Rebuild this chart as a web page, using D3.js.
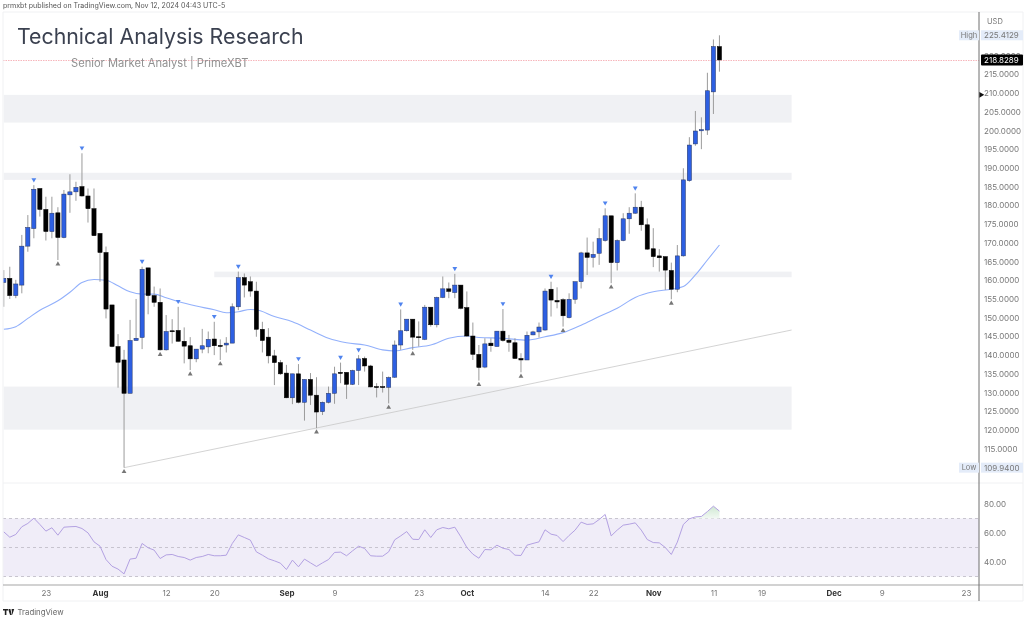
<!DOCTYPE html>
<html><head><meta charset="utf-8">
<script src="https://cdn.jsdelivr.net/npm/d3@7"></script>
<style>html,body{margin:0;padding:0;background:#fff}svg{display:block;filter:blur(0.45px)}text{font-family:Inter,"Liberation Sans",sans-serif}</style>
</head><body><svg id="c" width="1024" height="622"></svg>
<script>
const startDay = "2024-07-16";
const candleOpen = [159.4,160.5,155.9,158.7,169.1,173.8,184.5,178.9,173.0,178.0,171.4,182.8,183.6,185.0,182.5,179.1,
172.5,167.4,153.4,142.3,138.7,129.8,143.9,144.7,163.3,155.9,154.1,141.4,146.5,146.6,143.7,142.5,139.0,141.6,142.2,144.3,142.6,142.7,143.2,152.9,160.7,159.6,157.1,146.9,144.8,139.8,138.0,
135.2,128.6,135.0,127.4,133.5,129.3,124.9,127.4,129.8,135.4,135.4,132.2,135.9,139.1,137.1,131.6,131.6,131.4,134.1,142.7,146.5,149.6,144.9,144.2,152.8,148.1,155.4,157.7,156.7,158.7,
152.7,145.1,140.2,136.8,143.2,142.3,146.4,144.0,143.3,139.1,138.7,145.4,146.2,146.7,157.6,154.6,154.8,150.0,154.9,159.6,167.3,166.1,167.2,170.6,177.2,164.7,170.6,176.4,177.9,179.5,174.8,
168.4,166.5,166.3,162.6,157.6,166.5,186.6,196.4,199.9,200.1,210.3,222.4];
const candleClose = [160.5,155.9,159.0,169.1,174.1,184.3,178.9,173.0,177.9,171.4,183.0,183.6,184.8,182.5,179.1,171.9,
167.4,152.3,142.3,138.1,129.8,143.9,144.5,162.9,155.9,154.1,141.4,146.3,146.3,143.7,142.4,139.0,141.6,142.5,144.2,142.5,142.3,143.2,152.9,160.7,158.7,157.1,146.9,143.9,139.8,138.0,135.0,
128.6,135.0,127.4,133.5,129.3,124.8,127.4,129.8,135.0,135.1,132.2,135.9,139.0,137.1,131.5,131.4,131.4,134.0,142.7,146.5,149.6,144.8,144.7,152.8,148.1,155.4,157.7,157.0,158.7,152.5,
145.1,140.2,136.7,143.0,142.5,146.4,143.9,143.4,139.1,138.7,145.3,146.2,147.5,157.1,154.7,154.2,150.5,154.9,159.6,167.3,166.1,166.9,171.1,177.2,164.7,170.6,176.4,177.9,179.5,174.8,168.3,
166.3,166.0,162.7,157.6,166.5,186.8,196.1,199.85,200.2,210.6,222.4,218.83];
const candleHigh = [162.7,163.6,160.1,172.1,177.4,185.4,184.5,182.3,182.3,179.5,184.1,188.3,186.3,193.9,184.5,184.5,
172.5,169.0,153.4,145.6,141.4,149.4,155.0,163.6,163.3,158.3,157.8,150.7,149.6,152.9,147.4,144.8,141.6,147.0,146.3,148.9,144.2,144.8,153.8,162.3,161.8,161.0,159.6,148.9,147.2,141.4,138.7,
137.4,135.0,137.6,133.5,135.2,134.1,127.6,131.6,136.9,138.0,135.4,136.1,140.0,139.6,137.4,132.5,135.6,134.3,143.9,152.2,149.6,149.6,149.0,153.4,152.8,155.6,161.0,159.4,161.7,158.7,
157.0,148.7,142.7,144.5,144.5,146.4,152.3,145.4,144.5,140.5,146.3,146.5,148.7,157.8,159.6,158.1,155.2,156.5,159.6,167.6,171.4,170.3,173.9,179.2,177.2,170.9,177.9,179.5,183.2,181.2,176.5,
173.9,168.3,166.3,164.7,169.4,189.9,198.2,205.2,203.5,215.4,224.3,225.41];
const candleLow = [152.9,155.0,155.2,156.5,167.6,171.2,177.0,170.6,171.2,165.4,171.2,178.0,181.2,182.3,175.4,171.8,
159.6,149.8,142.1,131.3,109.94,129.8,143.9,141.6,150.9,152.9,141.2,141.2,143.1,143.6,137.8,136.0,138.1,140.5,140.5,140.0,138.7,140.7,143.2,152.0,155.4,155.6,144.9,140.7,137.8,132.0,134.7,
128.5,126.9,127.1,122.5,126.7,120.5,124.0,127.1,127.0,132.5,128.3,132.0,132.0,135.6,131.4,128.7,130.0,127.1,133.9,141.4,146.3,141.4,142.3,144.0,147.6,147.4,155.2,155.2,155.2,152.2,
144.9,138.7,133.2,136.5,140.9,142.3,143.6,140.9,139.0,135.4,138.7,145.3,144.7,146.5,150.3,152.5,147.6,149.8,153.7,157.8,161.4,163.4,164.1,170.3,159.2,162.6,170.4,172.4,177.7,173.2,168.1,
163.5,162.3,157.4,154.9,156.8,166.3,186.3,195.9,195.0,198.8,204.4,215.7];
const rsiValues = [60.8,57.1,59.0,64.3,66.6,70.2,65.9,61.3,63.6,58.5,64.0,64.3,64.5,63.1,60.1,53.9,
50.9,41.7,37.1,35.1,31.8,42.0,42.6,52.8,49.8,48.2,42.4,44.9,45.2,43.8,43.1,41.3,43.1,43.8,45.2,44.3,44.3,44.7,52.8,58.7,56.9,55.1,47.0,44.7,42.2,40.8,39.2,
34.8,41.3,36.7,42.0,39.4,36.9,39.4,41.7,46.6,46.8,44.3,47.7,50.9,49.3,44.3,44.0,44.0,47.0,55.3,58.0,61.0,55.7,55.5,62.2,56.9,62.2,63.8,62.9,64.0,57.4,
50.0,45.4,42.6,48.6,48.4,51.6,49.5,48.6,44.7,44.5,51.6,52.8,53.9,62.2,59.2,58.3,54.1,58.3,62.0,67.5,65.9,66.3,69.3,72.8,58.0,62.0,65.4,66.1,67.0,62.0,55.5,
53.4,53.2,50.0,45.2,53.7,65.9,69.8,71.1,71.4,74.8,78.5,75.1];
const emaDays = ["07-16","07-18","07-20","07-22","07-25","07-27","07-29","07-31","08-02","08-04","08-06","08-08","08-10","08-12","08-14","08-17","08-20","08-22","08-24","08-26","08-27","08-30","09-02","09-05","09-08","09-11","09-14","09-17","09-19","09-22","09-25","09-28","10-01","10-03","10-07","10-11","10-14","10-17","10-20","10-23","10-26","10-29","11-01","11-04","11-06","11-08","11-10","11-12"];
const emaValues = [146.9,147.6,149.8,152.0,154.5,156.8,159.4,160.2,160.0,158.5,156.9,156.3,156.3,155.3,154.3,153.1,152.1,151.3,151.6,152.2,152.1,150.3,148.9,146.7,144.5,143.3,142.7,141.4,141.1,142.0,142.7,144.5,145.1,144.7,144.5,144.0,144.9,146.0,148.0,150.3,152.5,155.4,156.9,157.6,158.3,161.4,165.4,169.4];
const pivotHighDays = ["07-21","07-29","08-08","08-14","08-20","08-24","09-03","09-10","09-13","09-20","09-29","10-07","10-15","10-24","10-29"];
const pivotLowDays = ["07-25","08-05","08-11","08-16","08-21","09-06","09-18","09-22","10-03","10-10","10-17","10-25","11-04"];
const zoneTop = [209.5,188.7,162.3,131.6];
const zoneBottom = [202.1,186.8,160.8,120.1];
const zoneStart = ["07-16","07-16","08-20","07-16"];
const zoneEnd = "11-24";
const trendDays = ["08-05","11-24"];
const trendValues = [109.94,146.7];
const priceTicks = [220,215,210,205,200,195,190,185,180,175,170,165,160,155,150,145,140,135,130,125,120,115];
const rsiTicks = [80,60,40];
const rsiLevels = [70,50,30];
const dateTickDays = ["07-23","08-01","08-12","08-20","09-01","09-09","09-23","10-01","10-14","10-22","11-01","11-11","11-19","12-01","12-09","12-23"];
const dateTickLabels = ["23","Aug","12","20","Sep","9","23","Oct","14","22","Nov","11","19","Dec","9","23"];
const priceLast = 218.8289, priceHighest = 225.4129, priceLowest = 109.94;

const d = s => new Date("2024-"+s+"T00:00:00Z");
const days = candleOpen.map((_,i)=>d3.utcDay.offset(new Date(startDay+"T00:00:00Z"),i));
const candles = days.map((day,i)=>({day,o:candleOpen[i],c:candleClose[i],h:candleHigh[i],l:candleLow[i],r:rsiValues[i]}));
const byKey = new Map(candles.map(k=>[d3.utcFormat("%m-%d")(k.day),k]));

const L=3,R=979,W=1024;
const x = d3.scaleUtc().domain([d("08-01"),d("12-23")]).range([100,966]);
const y = d3.scaleLinear().domain([120,210]).range([430,93]);
const yr = d3.scaleLinear().domain([30,70]).range([576.5,518.5]);
const svg = d3.select("#c");
svg.append("defs").append("clipPath").attr("id","cp").append("rect").attr("x",L).attr("y",12).attr("width",R-L).attr("height",573);
const plot = svg.append("g").attr("clip-path","url(#cp)");

plot.selectAll(".zone").data(zoneTop).join("rect").attr("fill","#f0f1f4")
 .attr("x",(_,i)=>x(d(zoneStart[i]))).attr("width",(_,i)=>x(d(zoneEnd))-x(d(zoneStart[i])))
 .attr("y",t=>y(t)).attr("height",(t,i)=>y(zoneBottom[i])-y(t));
plot.append("line").attr("x1",L).attr("x2",R).attr("y1",Math.round(y(priceLast))+0.5).attr("y2",Math.round(y(priceLast))+0.5).attr("stroke","#f7b6bc").attr("stroke-width",1).attr("stroke-dasharray","1.5 1");
plot.append("path").attr("d",d3.line().x((k,i)=>x(d(trendDays[i]))).y(v=>y(v))(trendValues)).attr("fill","none").attr("stroke","#c8c8c8").attr("stroke-width",0.8);
plot.append("path").attr("d",d3.line().curve(d3.curveMonotoneX).x((v,i)=>x(d(emaDays[i]))).y(v=>y(v))(emaValues)).attr("fill","none").attr("stroke","#92b0fb").attr("stroke-width",1.1);
const up=k=>k.c>=k.o;
plot.selectAll(".w").data(candles).join("line").attr("x1",k=>x(k.day)).attr("x2",k=>x(k.day)).attr("y1",k=>y(k.h)).attr("y2",k=>y(k.l)).attr("stroke","#9b9b9b").attr("stroke-width",1);
plot.selectAll(".b").data(candles).join("rect").attr("x",k=>x(k.day)-2.1).attr("width",4.2)
 .attr("y",k=>y(Math.max(k.o,k.c))).attr("height",k=>Math.max(1,Math.abs(y(k.o)-y(k.c))))
 .attr("fill",k=>up(k)?"#2d5fe2":"#000").attr("stroke",k=>up(k)?"#27355f":"#000").attr("stroke-width",0.5);
const sym=d3.symbol().type(d3.symbolTriangle).size(10)();
plot.selectAll(".ph").data(pivotHighDays).join("path").attr("d",sym).attr("fill","#4f83ee")
 .attr("transform",s=>`translate(${x(d(s))},${y(byKey.get(s).h)-5.5}) rotate(180)`);
plot.selectAll(".pl").data(pivotLowDays).join("path").attr("d",sym).attr("fill","#777")
 .attr("transform",s=>`translate(${x(d(s))},${y(byKey.get(s).l)+4})`);

plot.append("rect").attr("x",L).attr("width",R-L).attr("y",yr(70)).attr("height",yr(30)-yr(70)).attr("fill","#f0edf8");
rsiLevels.forEach(v=>plot.append("line").attr("x1",L).attr("x2",R).attr("y1",yr(v)).attr("y2",yr(v)).attr("stroke","#bdb9c4").attr("stroke-width",0.8).attr("stroke-dasharray","3 3"));
const obs = candles.filter(k=>k.r>=70 && k.day>=d("11-08"));
const grad=svg.select("defs").append("linearGradient").attr("id","g").attr("x1",0).attr("x2",0).attr("y1",0).attr("y2",1);
grad.append("stop").attr("offset",0).attr("stop-color","#cfe8d2");grad.append("stop").attr("offset",1).attr("stop-color","#f2f9f3");
plot.append("path").attr("d",d3.area().x(k=>x(k.day)).y0(yr(70)).y1(k=>yr(k.r))(obs)).attr("fill","url(#g)");
plot.append("path").attr("d",d3.line().x(k=>x(k.day)).y(k=>yr(k.r))(candles)).attr("fill","none").attr("stroke","#b3a1e2").attr("stroke-width",1);

const frame=[[L,12,W-1,12],[L,483,W-1,483],[L,601,W-1,601],[L,12,L,601],[W-1,12,W-1,601]];
svg.selectAll(".fr").data(frame).join("line").attr("x1",f=>f[0]).attr("y1",f=>f[1]).attr("x2",f=>f[2]).attr("y2",f=>f[3]).attr("stroke","#f0f1f3").attr("stroke-width",1);
svg.append("line").attr("x1",L).attr("x2",W-1).attr("y1",585).attr("y2",585).attr("stroke","#a5a5a5").attr("stroke-width",1);
svg.append("line").attr("x1",R).attr("x2",R).attr("y1",12).attr("y2",601).attr("stroke","#6e6e6e").attr("stroke-width",1);

const styleAxis=g=>{g.select(".domain").remove();g.selectAll("line").remove();g.selectAll("text").attr("fill","#777").attr("font-size",8).style("font-family","Inter,'Liberation Sans',sans-serif");};
svg.append("g").attr("transform",`translate(${R},0)`).call(d3.axisRight(y).tickValues(priceTicks).tickFormat(d3.format(".4f")).tickSize(0).tickPadding(5)).call(styleAxis);
svg.append("g").attr("transform",`translate(${R},0)`).call(d3.axisRight(yr).tickValues(rsiTicks).tickFormat(d3.format(".2f")).tickSize(0).tickPadding(5)).call(styleAxis);
const xa=svg.append("g").attr("transform","translate(0,585)").call(d3.axisBottom(x).tickValues(dateTickDays.map(d)).tickFormat((_,i)=>dateTickLabels[i]).tickSize(0).tickPadding(5)).call(styleAxis);
xa.selectAll("text").attr("fill",(_,i)=>/[A-Z]/.test(dateTickLabels[i])?"#333":"#777").attr("font-weight",(_,i)=>/[A-Z]/.test(dateTickLabels[i])?"700":"400");

const text=(s,px,py,size,fill,anchor="start",weight=400)=>svg.append("text").attr("x",px).attr("y",py).attr("font-size",size).attr("fill",fill).attr("text-anchor",anchor).attr("font-weight",weight).attr("dominant-baseline","central").text(s);
const tag=(label,val)=>{const py=y(val);
 svg.append("rect").attr("x",959).attr("width",20).attr("y",py-5).attr("height",10).attr("fill","#e4ecf9");
 svg.append("rect").attr("x",981).attr("width",42).attr("y",py-5).attr("height",10).attr("fill","#e4ecf9");
 text(label,969,py,7.5,"#777","middle");text(d3.format(".4f")(val),984,py,8,"#777");};
tag("High",priceHighest);tag("Low",priceLowest);
text("USD",987,21,7.5,"#777");
svg.append("rect").attr("x",981).attr("width",42).attr("y",y(priceLast)-5.5).attr("height",11).attr("rx",1).attr("fill","#000");
text(d3.format(".4f")(priceLast),984,y(priceLast),8,"#fff");
svg.append("path").attr("d",d3.symbol().type(d3.symbolTriangle).size(14)()).attr("fill","#111").attr("transform",`translate(981,${y(209.5)}) rotate(90)`);

text("prmxbt published on TradingView.com, Nov 12, 2024 04:43 UTC-5",3,5,7.05,"#555");
text("Technical Analysis Research",17,36,21.3,"#3b4150");
text("Senior Market Analyst | PrimeXBT",71,63,11.15,"#909090");
text("TradingView",17.5,612,7.8,"#666");
svg.append("path").attr("d","M3 609h5v1.6H6.4V615H4.8v-4.4H3zM8.6 609l2 0-0.2 0 1.4 6h-1.7l-1.5-4.6zM11.6 609h2.6l-2 6z").attr("fill","#222");
</script></body></html>
